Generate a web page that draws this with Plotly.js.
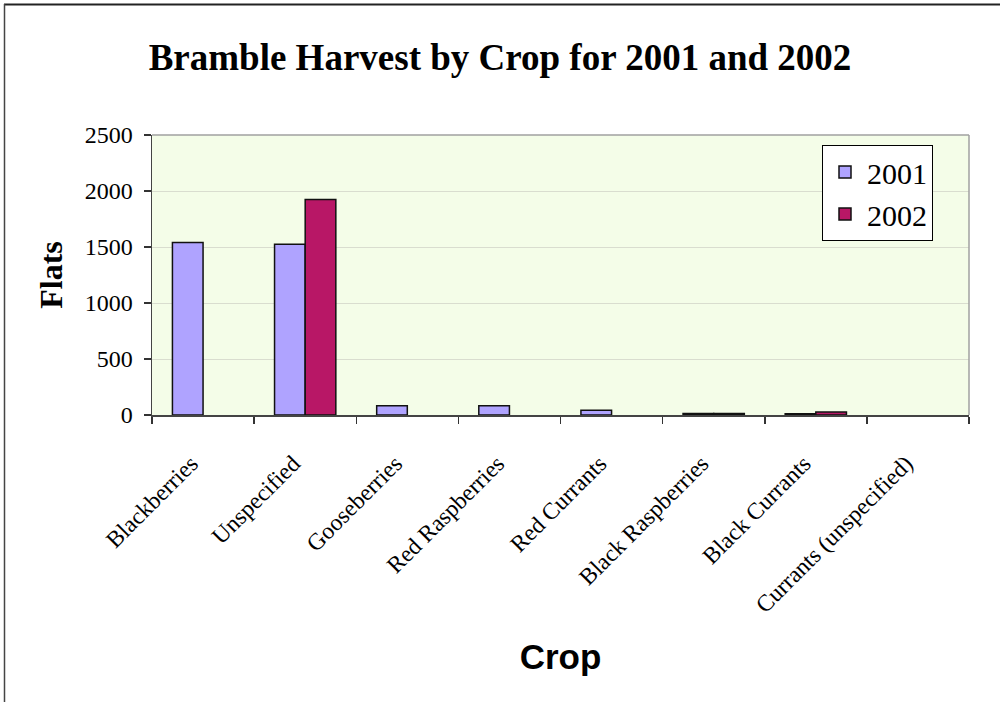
<!DOCTYPE html>
<html>
<head>
<meta charset="utf-8">
<script src="https://cdn.plot.ly/plotly-3.0.1.min.js"></script>
<style>
  html, body { margin: 0; padding: 0; background: #fff; }
  #chart { width: 1000px; height: 702px; }
</style>
</head>
<body>
<div id="chart"></div>
<script>
// Bramble harvest (flats) per crop; null = no harvest recorded
const crops = ["Blackberries", "Unspecified", "Gooseberries", "Red Raspberries",
               "Red Currants", "Black Raspberries", "Black Currants", "Currants (unspecified)"];
const flats2001 = [1540, 1525, 83, 83, 42, 14, 12, null];
const flats2002 = [null, 1925, null, null, null, 13, 26, null];
const seriesNames = ["2001", "2002"];
const yTicks = [0, 500, 1000, 1500, 2000, 2500];

const W = 1000, H = 702;
const M = { l: 152, r: 31, t: 135, b: 287 };
const pw = W - M.l - M.r, ph = H - M.t - M.b;
// convert page pixels to paper coordinates for the frame lines
const px = x => (x - M.l) / pw;
const py = y => (H - M.b - y) / ph;

const serif = "'Liberation Serif', 'Times New Roman', serif";
const sans = "'Liberation Sans', Arial, sans-serif";

const traces = [
  { type: "bar", name: seriesNames[0], x: crops, y: flats2001,
    marker: { color: "#AFA3FF", line: { color: "#111", width: 1.5 } } },
  { type: "bar", name: seriesNames[1], x: crops, y: flats2002,
    marker: { color: "#B81766", line: { color: "#111", width: 1.5 } } }
];

const layout = {
  width: W, height: H,
  margin: M,
  paper_bgcolor: "#ffffff",
  plot_bgcolor: "#F4FDE8",
  barmode: "group",
  bargap: 0.4,
  bargroupgap: 0,
  showlegend: true,
  title: {
    text: "<b>Bramble Harvest by Crop for 2001 and 2002</b>",
    font: { family: serif, size: 37, color: "#000" },
    x: 0.5, xref: "container", xanchor: "center",
    y: 1 - 57 / H, yref: "container", yanchor: "middle"
  },
  xaxis: {
    type: "category",
    tickangle: -45,
    tickson: "boundaries",
    ticks: "outside", ticklen: 7, tickcolor: "#333", tickwidth: 1.5,
    ticklabelstandoff: 24,
    ticklabelshift: -12,
    showline: true, linecolor: "#444", linewidth: 1.5,
    showgrid: false,
    tickfont: { family: serif, size: 23.5, color: "#000" },
    title: { text: "<b>Crop</b>", font: { family: sans, size: 35, color: "#000" }, standoff: 27 },
    automargin: false
  },
  yaxis: {
    range: [0, 2500],
    tickvals: yTicks,
    ticks: "outside", ticklen: 7, tickcolor: "#333", tickwidth: 1.5,
    ticklabelstandoff: 6,
    showline: true, linecolor: "#444", linewidth: 1.5,
    showgrid: true, gridcolor: "#D9DDCF", gridwidth: 1,
    zeroline: false,
    tickfont: { family: serif, size: 24, color: "#000" },
    title: { text: "<b>Flats</b>", font: { family: serif, size: 32, color: "#000" }, standoff: 12 },
    automargin: false
  },
  legend: {
    x: px(822), y: py(145), xanchor: "left", yanchor: "top",
    bgcolor: "#ffffff", bordercolor: "#000", borderwidth: 1,
    font: { family: serif, size: 30, color: "#000" },
    itemwidth: 34,
    tracegroupgap: 0
  },
  shapes: [
    // plot area frame (top and right edges)
    { type: "line", xref: "paper", yref: "paper", x0: 0, x1: 1, y0: 1, y1: 1,
      line: { color: "#A0A0A0", width: 1.5 } },
    { type: "line", xref: "paper", yref: "paper", x0: 1, x1: 1, y0: 0, y1: 1,
      line: { color: "#A0A0A0", width: 1.5 } },
    // outer chart border (top and left)
    { type: "line", xref: "paper", yref: "paper", x0: px(4), x1: px(1000), y0: py(4.5), y1: py(4.5),
      line: { color: "#222", width: 2 } },
    { type: "line", xref: "paper", yref: "paper", x0: px(4.5), x1: px(4.5), y0: py(4), y1: py(702),
      line: { color: "#444", width: 1.5 } }
  ]
};

Plotly.newPlot("chart", traces, layout, { staticPlot: true, displayModeBar: false });
</script>
</body>
</html>
